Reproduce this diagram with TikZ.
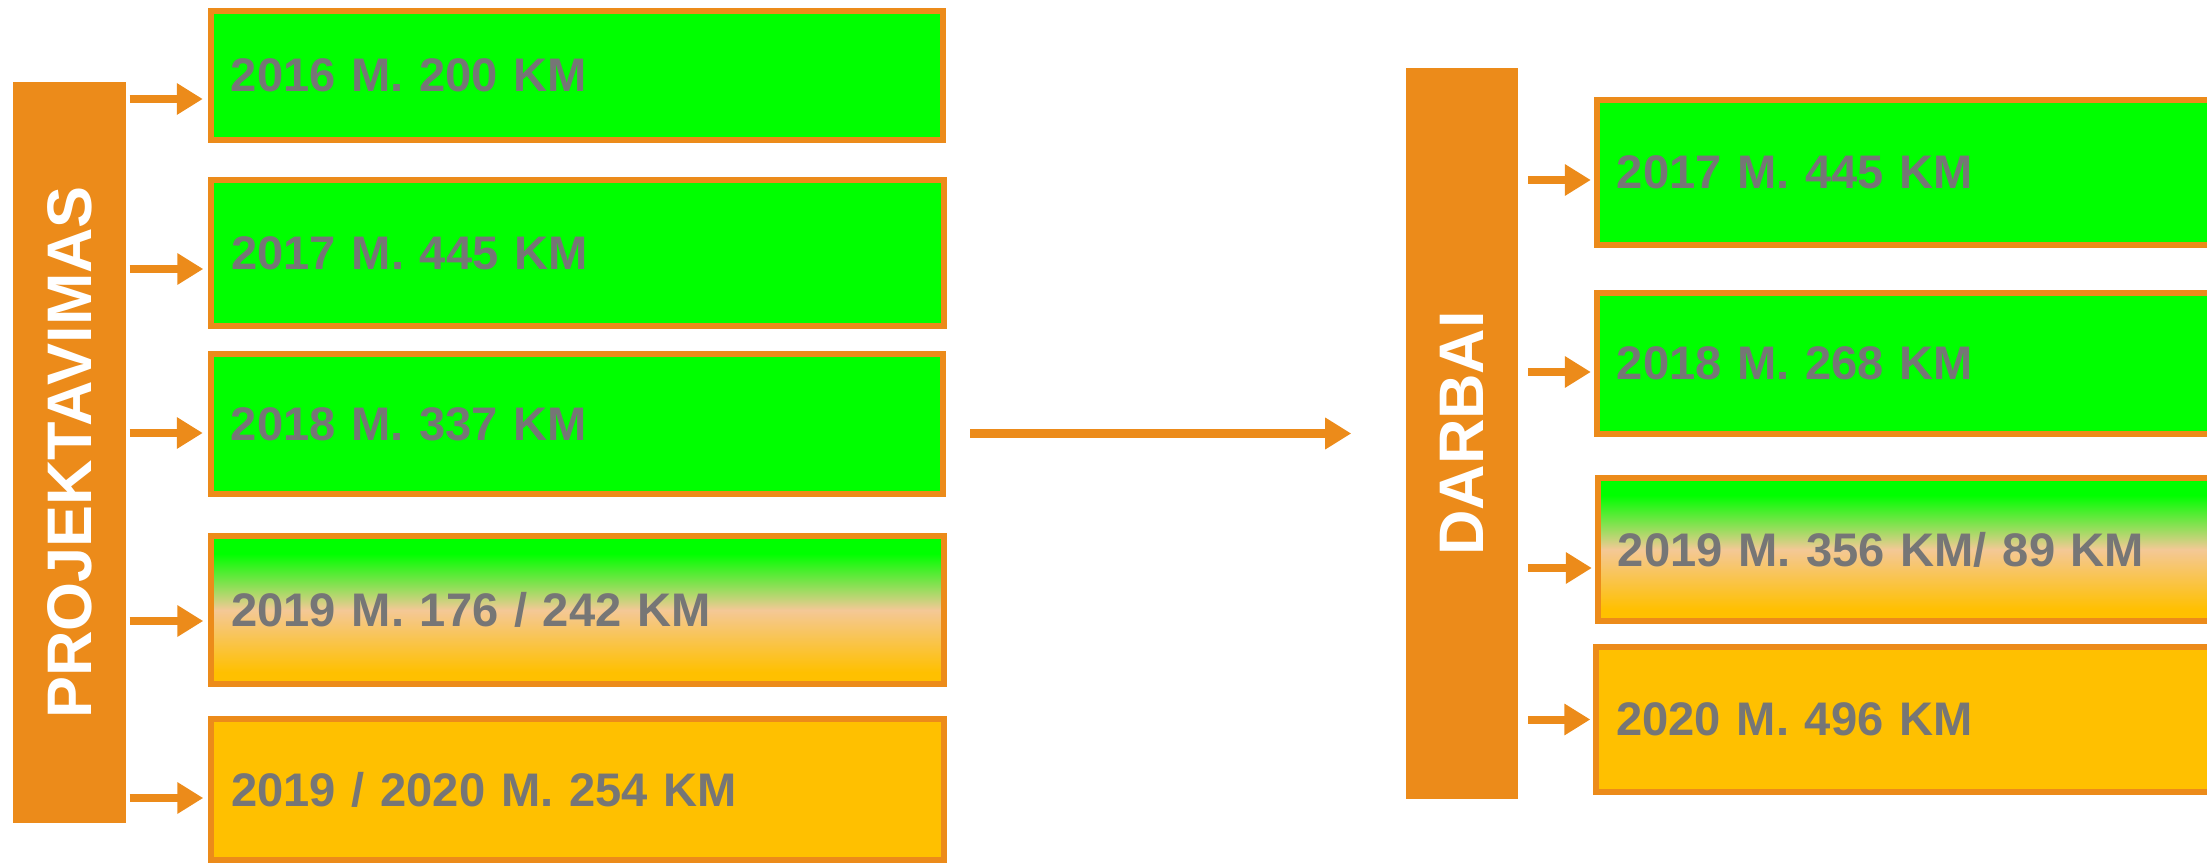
\documentclass[tikz,border=0pt]{standalone}
\usepackage{fontspec}
\setmainfont{Liberation Sans}
\usetikzlibrary{arrows.meta}
\definecolor{orng}{RGB}{236,139,26}
\definecolor{grn}{RGB}{0,255,0}
\definecolor{yel}{RGB}{255,192,0}
\definecolor{peach}{RGB}{244,200,150}
\definecolor{txtgray}{RGB}{118,118,118}
\pgfdeclareverticalshading{mixfill}{100bp}{color(0bp)=(yel); color(29bp)=(yel); color(50bp)=(peach); color(69bp)=(grn); color(100bp)=(grn)}

\begin{document}
\begin{tikzpicture}[x=0.01cm,y=-0.01cm,
  bar/.style={fill=orng,inner sep=0pt,text=white,font=\fontsize{17.9pt}{20pt}\selectfont\bfseries},
  box/.style={draw=orng,line width=0.06cm,inner xsep=0.2cm,inner ysep=0pt,align=left,text=txtgray,font=\fontsize{13.4pt}{16pt}\selectfont\bfseries},
  lbox/.style={box,minimum width=7.32cm,text width=6.92cm},
  rbox/.style={box,minimum width=6.22cm,text width=5.82cm},
  arr/.style={draw=orng,line width=0.08cm,-{Triangle[length=0.26cm,width=0.3cm]}}]
\useasboundingbox (0,0) rectangle (2207,864);
\clip (0,0) rectangle (2207,864);
\node (proj) at (69.5,452.5) [bar,minimum width=1.13cm,minimum height=7.41cm]{\rotatebox{90}{PROJEKTAVIMAS}};
\node (p1) at (577,75.5) [lbox,fill=grn,minimum height=1.29cm]{2016 M. 200 KM};
\node (p2) at (577.5,253) [lbox,fill=grn,minimum height=1.46cm]{2017 M. 445 KM};
\node (p3) at (577,424) [lbox,fill=grn,minimum height=1.40cm]{2018 M. 337 KM};
\node (p4) at (577.5,610) [lbox,shading=mixfill,minimum height=1.48cm]{2019 M. 176 / 242 KM};
\node (p5) at (577.5,789.5) [lbox,fill=yel,minimum height=1.41cm]{2019 / 2020 M. 254 KM};
\node (darb) at (1462,433.5) [bar,minimum width=1.12cm,minimum height=7.31cm]{\rotatebox{90}{DARBAI}};
\node (d1) at (1908,172.5) [rbox,fill=grn,minimum height=1.45cm]{2017 M. 445 KM};
\node (d2) at (1908,363.5) [rbox,fill=grn,minimum height=1.41cm]{2018 M. 268 KM};
\node (d3) at (1909,549.5) [rbox,shading=mixfill,minimum height=1.43cm]{2019 M. 356 KM/ 89 KM};
\node (d4) at (1907.5,719.5) [rbox,fill=yel,minimum height=1.45cm]{2020 M. 496 KM};
\draw[arr] ([xshift=0.03cm,yshift=-0.235cm]p1.west -| proj.east) -- ([xshift=-0.05cm,yshift=-0.235cm]p1.west);
\draw[arr] ([xshift=0.03cm,yshift=-0.16cm]p2.west -| proj.east) -- ([xshift=-0.05cm,yshift=-0.16cm]p2.west);
\draw[arr] ([xshift=0.03cm,yshift=-0.09cm]p3.west -| proj.east) -- ([xshift=-0.05cm,yshift=-0.09cm]p3.west);
\draw[arr] ([xshift=0.03cm,yshift=-0.11cm]p4.west -| proj.east) -- ([xshift=-0.05cm,yshift=-0.11cm]p4.west);
\draw[arr] ([xshift=0.03cm,yshift=-0.085cm]p5.west -| proj.east) -- ([xshift=-0.05cm,yshift=-0.085cm]p5.west);
\draw[arr] ([xshift=0.24cm]p3.east |- darb.west) -- ([xshift=-0.54cm]darb.west);
\draw[arr] ([xshift=0.09cm,yshift=-0.075cm]d1.west -| darb.east) -- ([xshift=-0.03cm,yshift=-0.075cm]d1.west);
\draw[arr] ([xshift=0.09cm,yshift=-0.085cm]d2.west -| darb.east) -- ([xshift=-0.03cm,yshift=-0.085cm]d2.west);
\draw[arr] ([xshift=0.09cm,yshift=-0.185cm]d3.west -| darb.east) -- ([xshift=-0.03cm,yshift=-0.185cm]d3.west);
\draw[arr] ([xshift=0.09cm]d4.west -| darb.east) -- ([xshift=-0.03cm]d4.west);
\end{tikzpicture}
\end{document}
